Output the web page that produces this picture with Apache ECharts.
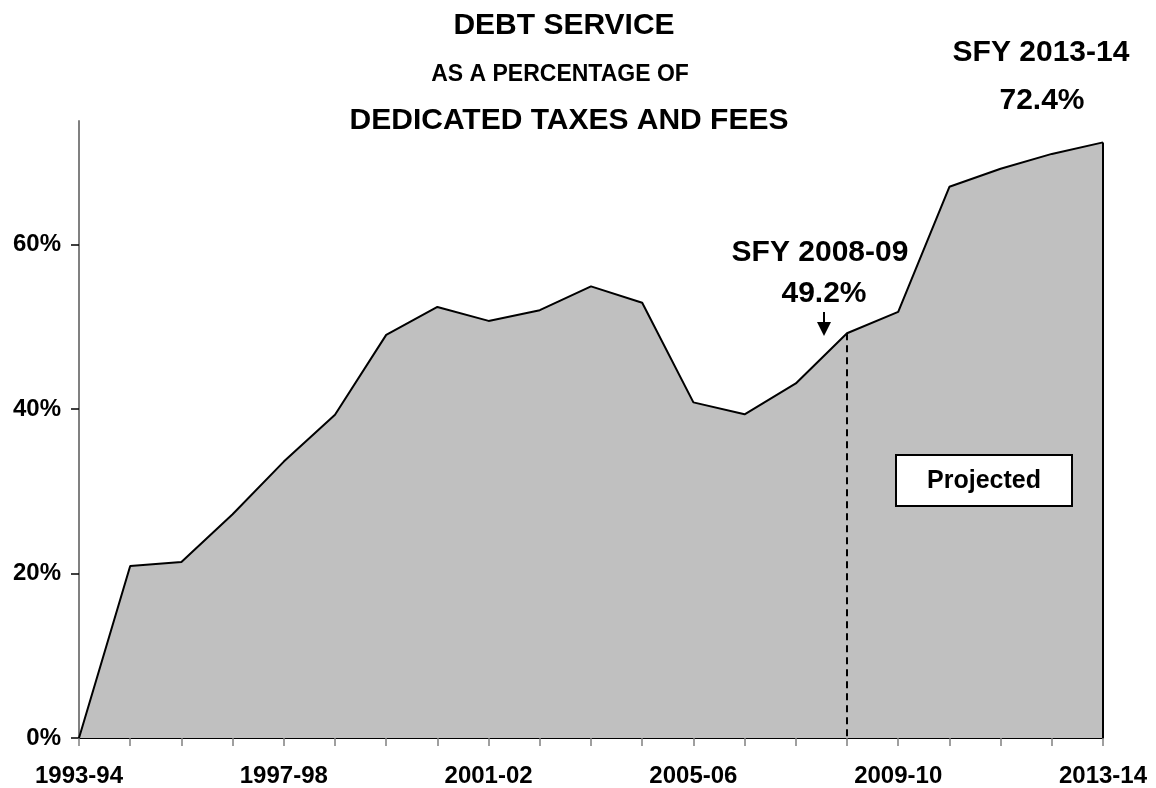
<!DOCTYPE html>
<html><head><meta charset="utf-8">
<script src="https://cdn.jsdelivr.net/npm/echarts@6/dist/echarts.min.js"></script>
<style>html,body{margin:0;padding:0;background:#fff}#c{width:1156px;height:788px}</style>
</head><body><div id="c"></div>
<script>
const categories = ['1993-94','1994-95','1995-96','1996-97','1997-98','1998-99','1999-00','2000-01','2001-02','2002-03','2003-04','2004-05','2005-06','2006-07','2007-08','2008-09','2009-10','2010-11','2011-12','2012-13','2013-14'];
const debtPct = [0,20.9,21.4,27.2,33.6,39.3,49.0,52.4,50.7,52.0,54.9,52.9,40.8,39.35,43.1,49.2,51.8,67.0,69.2,71.0,72.4];
const yTicks = [0,20,40,60];
const titleLines = ['DEBT SERVICE','AS A PERCENTAGE OF','DEDICATED TAXES AND FEES'];
const markerIndex = 15;   // SFY 2008-09
const lastIndex = 20;     // SFY 2013-14
const projectedLabel = 'Projected';

const FONT = '"Liberation Sans", Arial, sans-serif';
const chart = echarts.init(document.getElementById('c'), null, {renderer:'canvas'});

chart.setOption({
  animation:false,
  backgroundColor:'#fff',
  grid:{left:79, right:53, top:121, bottom:49, containLabel:false},
  xAxis:{
    type:'category', data:categories, boundaryGap:false,
    axisLine:{lineStyle:{color:'#000', width:2}},
    axisTick:{show:true, interval:0, length:8, inside:false, lineStyle:{color:'#808080', width:1.5}},
    axisLabel:{interval:3, margin:26, color:'#000', fontSize:24, fontWeight:'bold', fontFamily:FONT}
  },
  yAxis:{
    type:'value', min:0, max:75, interval:20,
    splitLine:{show:false},
    axisLine:{show:true, lineStyle:{color:'#808080', width:2}},
    axisTick:{show:true, length:8, customValues:yTicks, lineStyle:{color:'#000', width:1.5}},
    axisLabel:{customValues:yTicks, margin:18, formatter:'{value}%', color:'#000', fontSize:24, fontWeight:'bold', fontFamily:FONT}
  },
  series:[{
    type:'line', data:debtPct, symbol:'none',
    lineStyle:{color:'#000', width:2},
    areaStyle:{color:'#c0c0c0', opacity:1},
    markLine:{
      silent:true, symbol:['none','none'], label:{show:false},
      data:[
        [{coord:[categories[markerIndex], debtPct[markerIndex]], lineStyle:{type:[7,5], color:'#000', width:2}},
         {coord:[categories[markerIndex], 0]}],
        [{coord:[categories[lastIndex], debtPct[lastIndex]], lineStyle:{type:'solid', color:'#000', width:2}},
         {coord:[categories[lastIndex], 0]}]
      ]
    }
  }]
});

function px(i, v){ return chart.convertToPixel({gridIndex:0}, [i, v]); }
const pm = px(markerIndex, debtPct[markerIndex]);
const pl = px(lastIndex, debtPct[lastIndex]);
const arrowX = pm[0] - 23;
const titleStyle = (txt, size) => ({text:txt, fill:'#000', font:'bold '+size+'px '+FONT, align:'center', verticalAlign:'middle'});

chart.setOption({
  graphic:[
    {type:'text', z:100, x:564, y:26, style:titleStyle(titleLines[0],30)},
    {type:'text', z:100, x:560, y:75, style:titleStyle(titleLines[1],23)},
    {type:'text', z:100, x:569, y:121, style:titleStyle(titleLines[2],30)},
    {type:'text', z:100, x:pm[0]-27, y:253, style:titleStyle('SFY ' + categories[markerIndex], 30)},
    {type:'text', z:100, x:pm[0]-23, y:294, style:titleStyle(debtPct[markerIndex].toFixed(1)+'%', 30)},
    {type:'line', z:100, shape:{x1:arrowX, y1:312, x2:arrowX, y2:324}, style:{stroke:'#000', lineWidth:2}},
    {type:'polygon', z:100, shape:{points:[[arrowX-7,322],[arrowX+7,322],[arrowX,336]]}, style:{fill:'#000'}},
    {type:'text', z:100, x:pl[0]-62, y:53, style:titleStyle('SFY ' + categories[lastIndex], 30)},
    {type:'text', z:100, x:pl[0]-61, y:101, style:titleStyle(debtPct[lastIndex].toFixed(1)+'%', 30)},
    {type:'rect', z:100, shape:{x:896, y:455, width:176, height:51}, style:{fill:'#fff', stroke:'#000', lineWidth:2}},
    {type:'text', z:101, x:984, y:481, style:titleStyle(projectedLabel, 25)}
  ]
});
</script></body></html>
